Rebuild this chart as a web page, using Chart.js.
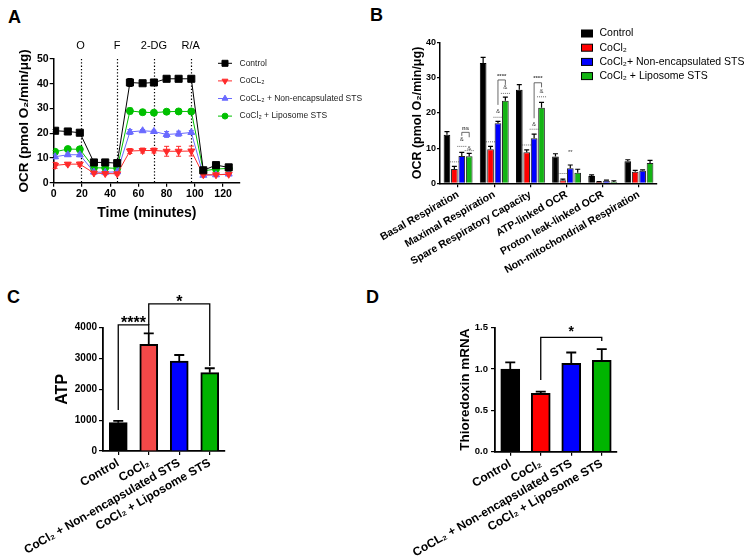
<!DOCTYPE html>
<html>
<head>
<meta charset="utf-8">
<script src="https://cdn.jsdelivr.net/npm/chart.js@4.4.1/dist/chart.umd.min.js"></script>
<style>
  html, body { margin:0; padding:0; background:#fff; }
  body { width:746px; height:560px; position:relative; overflow:hidden; font-family:'Liberation Sans', Arial, sans-serif; }
  canvas { position:absolute; }
  .plabel { position:absolute; font-size:18px; font-weight:bold; line-height:1; color:#000; }
</style>
</head>
<body>
<div class="plabel" style="left:8px;top:8px">A</div>
<div class="plabel" style="left:370px;top:6px">B</div>
<div class="plabel" style="left:7px;top:288px">C</div>
<div class="plabel" style="left:366px;top:288px">D</div>
<canvas id="chartA" width="380" height="230" style="left:0;top:0"></canvas>
<canvas id="chartB" width="406" height="290" style="left:340px;top:0"></canvas>
<canvas id="chartC" width="250" height="280" style="left:0;top:280px"></canvas>
<canvas id="chartD" width="373" height="280" style="left:373px;top:280px"></canvas>
<script>
// ================= DATA =================
// Panel A – OCR time course
const aTimes      = [1, 10, 18.5, 28.5, 36.5, 45, 54, 63, 71, 80, 88.5, 97.5, 106, 115, 124];
const aControl    = [21.0, 20.7, 20.2, 8.2, 8.2, 7.9, 40.5, 40.2, 40.5, 42.0, 42.0, 42.0, 5.0, 7.1, 6.2];
const aControlErr = [0.5, 0.4, 0.6, 0.5, 0.4, 0.5, 1.6, 0.8, 0.8, 0.5, 0.5, 0.5, 1.2, 0.8, 0.6];
const aCocl2      = [7.0, 7.5, 7.5, 3.9, 3.7, 3.6, 12.8, 13.0, 13.0, 12.7, 12.7, 12.8, 3.2, 3.2, 3.4];
const aCocl2Err   = [1.2, 0.6, 0.8, 0.5, 0.5, 0.5, 1.0, 1.0, 1.0, 2.0, 2.0, 2.0, 0.5, 0.5, 0.5];
const aNonEnc     = [10.5, 11.3, 11.3, 4.3, 4.2, 4.4, 20.5, 21.0, 20.7, 19.5, 19.8, 20.3, 3.0, 3.2, 3.5];
const aNonEncErr  = [0.8, 0.6, 0.8, 0.4, 0.4, 0.4, 1.0, 0.5, 0.5, 1.2, 1.0, 0.8, 0.4, 0.4, 0.4];
const aLipo       = [12.5, 13.6, 13.5, 6.0, 6.0, 5.8, 29.0, 28.5, 28.3, 28.7, 28.8, 28.8, 4.8, 5.5, 5.8];
const aLipoErr    = [0.5, 0.5, 0.6, 0.5, 0.5, 0.4, 1.2, 0.5, 0.5, 0.8, 0.8, 0.8, 0.5, 0.5, 0.5];
const aSeriesNames = ['Control', 'CoCL\u2082', 'CoCL\u2082 + Non-encapsulated STS', 'CoCl\u2082 + Liposome STS'];
const aInjectionTimes  = [19, 45, 71, 97];
const aInjectionLabels = ['O', 'F', '2-DG', 'R/A'];
const aXTicks = [0, 20, 40, 60, 80, 100, 120];
const aYTicks = [0, 10, 20, 30, 40, 50];

// Panel B – OCR parameters
const bCategories = ['Basal Respiration', 'Maximal Respiration', 'Spare Respiratory Capacity',
                     'ATP-linked OCR', 'Proton leak-linked OCR', 'Non-mitochondrial Respiration'];
const bSeriesNames = ['Control', 'CoCl\u2082', 'CoCl\u2082+ Non-encapsulated STS', 'CoCl\u2082 + Liposome STS'];
const bControl    = [13.8, 34.2, 26.6, 7.6, 2.1, 6.3];
const bControlErr = [0.9, 1.6, 1.5, 0.8, 0.3, 0.4];
const bCocl2      = [4.1, 9.7, 8.8, 0.9, 0.4, 3.3];
const bCocl2Err   = [0.7, 0.8, 0.7, 0.3, 0.1, 0.4];
const bNonEnc     = [7.8, 17.1, 12.8, 4.3, 0.7, 3.6];
const bNonEncErr  = [1.0, 0.5, 1.2, 0.9, 0.2, 0.2];
const bLipo       = [7.7, 23.5, 21.5, 3.0, 0.4, 5.8];
const bLipoErr    = [0.8, 1.0, 1.5, 1.0, 0.3, 0.7];
const bYTicks = [0, 10, 20, 30, 40];
// significance marks: [category, dataset, value, text]
const bMarks = [
  [0, 1, 6.1, '-'], [0, 2, 12.4, '&'], [0, 2, 10.5, '-'], [0, 3, 10.0, '&'], [0, 3, 9.3, '-'],
  [1, 1, 11.8, '-'], [1, 2, 20.4, '&'], [1, 2, 18.8, '-'], [1, 3, 27.3, '&'], [1, 3, 25.6, '-'],
  [2, 1, 10.9, '-'], [2, 2, 16.9, '&'], [2, 2, 15.4, '-'], [2, 3, 26.1, '&'], [2, 3, 24.6, '-'],
  [3, 1, 2.8, '-'], [3, 2, 8.7, '**']
];
// brackets: [category, dataset from, dataset to, top, left end, right end, text]
const bBrackets = [
  [0, 2, 3, 14.5, 13.5, 13.1, 'ns'],
  [1, 2, 3, 29.4, 22.3, 28.0, '****'],
  [2, 2, 3, 28.6, 18.5, 27.3, '****']
];

// Panel C – ATP
const cCategories = ['Control', 'CoCl\u2082', 'CoCl\u2082 + Non-encapsulated STS', 'CoCl\u2082 + Liposome STS'];
const cATP    = [920, 3460, 2920, 2540];
const cATPErr = [55, 355, 195, 145];
const cYTicks = [0, 1000, 2000, 3000, 4000];
const cBrackets = [[0, 1, 4090, 1330, 3830, '****'], [1, 3, 4770, 4090, 2760, '*']];

// Panel D – Thioredoxin mRNA
const dCategories = ['Control', 'CoCl\u2082', 'CoCL\u2082 + Non-encapsulated STS', 'CoCl\u2082 + Liposome STS'];
const dTrx    = [1.0, 0.706, 1.07, 1.105];
const dTrxErr = [0.08, 0.02, 0.13, 0.137];
const dYTicks = [0, 0.5, 1.0, 1.5];
const dYTickLabels = ['0.0', '0.5', '1.0', '1.5'];
const dBrackets = [[1, 3, 1.384, 0.867, 1.34, '*']];

// ================= HELPERS =================
const FONT = "'Liberation Sans', 'DejaVu Sans', Arial, sans-serif";
Chart.defaults.font.family = FONT;
Chart.defaults.color = '#000';
Chart.defaults.animation = false;

const fixedTicks = values => s => { s.ticks = values.map(v => ({ value: v })); };
const gridTicks = len => ({ display: true, drawOnChartArea: false, drawTicks: true, tickLength: len, color: '#000', lineWidth: 1.2, offset: false });

const lineErrorBars = {
  id: 'lineErrorBars',
  beforeDatasetsDraw(chart) {
    const { ctx, scales: { x, y } } = chart;
    ctx.save();
    chart.data.datasets.forEach(ds => {
      if (!ds.errors) return;
      ctx.strokeStyle = ds.borderColor; ctx.lineWidth = 1;
      ds.data.forEach((p, j) => {
        const e = ds.errors[j];
        const px = x.getPixelForValue(p.x);
        const y1 = y.getPixelForValue(p.y + e), y2 = y.getPixelForValue(p.y - e);
        ctx.beginPath();
        ctx.moveTo(px, y1); ctx.lineTo(px, y2);
        ctx.moveTo(px - 2.5, y1); ctx.lineTo(px + 2.5, y1);
        ctx.moveTo(px - 2.5, y2); ctx.lineTo(px + 2.5, y2);
        ctx.stroke();
      });
    });
    ctx.restore();
  }
};

const aInjections = {
  id: 'aInjections',
  beforeDatasetsDraw(chart) {
    const { ctx, chartArea, scales: { x } } = chart;
    ctx.save();
    ctx.strokeStyle = '#000'; ctx.lineWidth = 1.2; ctx.setLineDash([1.3, 2]);
    aInjectionTimes.forEach(t => {
      const px = Math.round(x.getPixelForValue(t)) + 0.5;
      ctx.beginPath(); ctx.moveTo(px, chartArea.top); ctx.lineTo(px, chartArea.bottom); ctx.stroke();
    });
    ctx.setLineDash([]);
    ctx.font = '11px ' + FONT; ctx.textAlign = 'center'; ctx.textBaseline = 'middle'; ctx.fillStyle = '#000';
    aInjectionTimes.forEach((t, i) => ctx.fillText(aInjectionLabels[i], x.getPixelForValue(t), chartArea.top - 13));
    ctx.restore();
  }
};

const aLegend = {
  id: 'aLegend',
  afterDraw(chart, args, o) {
    const { ctx } = chart;
    ctx.save();
    chart.data.datasets.forEach((ds, i) => {
      const y = o.y0 + i * o.dy;
      ctx.strokeStyle = ds.borderColor; ctx.fillStyle = ds.backgroundColor; ctx.lineWidth = 1;
      ctx.beginPath(); ctx.moveTo(o.x0, y); ctx.lineTo(o.x0 + o.len, y); ctx.stroke();
      Chart.helpers.drawPoint(ctx, { pointStyle: ds.pointStyle, radius: ds.pointRadius * 0.85, rotation: ds.pointRotation || 0, borderWidth: 1 }, o.x0 + o.len / 2, y);
      ctx.fillStyle = '#222'; ctx.font = o.font; ctx.textBaseline = 'middle'; ctx.textAlign = 'left';
      ctx.fillText(ds.label, o.textX, y);
    });
    ctx.restore();
  }
};

const barErrorBars = {
  id: 'barErrorBars',
  afterDatasetsDraw(chart, args, o) {
    const { ctx } = chart; const y = chart.scales.y;
    ctx.save(); ctx.strokeStyle = '#000'; ctx.lineWidth = o.lineWidth;
    chart.data.datasets.forEach((ds, i) => {
      if (!ds.errors) return;
      chart.getDatasetMeta(i).data.forEach((bar, j) => {
        const top = y.getPixelForValue(ds.data[j] + ds.errors[j]);
        ctx.beginPath();
        ctx.moveTo(bar.x, bar.y); ctx.lineTo(bar.x, top);
        ctx.moveTo(bar.x - o.capWidth / 2, top); ctx.lineTo(bar.x + o.capWidth / 2, top);
        ctx.stroke();
      });
    });
    ctx.restore();
  }
};

const brackets = {
  id: 'brackets',
  afterDraw(chart, args, o) {
    const { ctx } = chart; const x = chart.scales.x, y = chart.scales.y;
    ctx.save(); ctx.strokeStyle = '#000'; ctx.fillStyle = '#000'; ctx.lineWidth = o.lineWidth;
    o.items.forEach(([a, b, top, lb, rb, text]) => {
      const xa = x.getPixelForValue(a), xb = x.getPixelForValue(b), yt = y.getPixelForValue(top);
      ctx.beginPath();
      ctx.moveTo(xa, y.getPixelForValue(lb)); ctx.lineTo(xa, yt); ctx.lineTo(xb, yt); ctx.lineTo(xb, y.getPixelForValue(rb));
      ctx.stroke();
      ctx.font = o.font; ctx.textAlign = 'center'; ctx.textBaseline = 'alphabetic';
      ctx.fillText(text, (xa + xb) / 2, yt + o.textDy);
    });
    ctx.restore();
  }
};

const bAnnot = {
  id: 'bAnnot',
  afterDatasetsDraw(chart) {
    const { ctx } = chart; const y = chart.scales.y;
    const bx = (cat, ds) => chart.getDatasetMeta(ds).data[cat].x;
    ctx.save();
    ctx.strokeStyle = '#444'; ctx.fillStyle = '#444'; ctx.lineWidth = 0.8;
    ctx.textAlign = 'center'; ctx.textBaseline = 'middle';
    bMarks.forEach(([cat, ds, v, t]) => {
      const px = bx(cat, ds), py = y.getPixelForValue(v);
      if (t === '-') {
        ctx.setLineDash([1, 1]); ctx.beginPath(); ctx.moveTo(px - 4.5, py); ctx.lineTo(px + 4.5, py); ctx.stroke(); ctx.setLineDash([]);
      } else { ctx.font = '6px ' + FONT; ctx.fillText(t, px, py); }
    });
    bBrackets.forEach(([cat, d1, d2, top, lb, rb, t]) => {
      const x1 = bx(cat, d1), x2 = bx(cat, d2), yt = y.getPixelForValue(top);
      ctx.beginPath(); ctx.moveTo(x1, y.getPixelForValue(lb)); ctx.lineTo(x1, yt); ctx.lineTo(x2, yt); ctx.lineTo(x2, y.getPixelForValue(rb)); ctx.stroke();
      ctx.font = 'bold 6px ' + FONT; ctx.fillText(t, (x1 + x2) / 2, yt - 4);
    });
    ctx.restore();
  }
};

const bLegend = {
  id: 'bLegend',
  afterDraw(chart, args, o) {
    const { ctx } = chart;
    ctx.save();
    chart.data.datasets.forEach((ds, i) => {
      const y = o.y0 + i * o.dy;
      ctx.fillStyle = ds.backgroundColor; ctx.fillRect(o.x0, y - 3.5, 12, 7);
      ctx.strokeStyle = '#000'; ctx.lineWidth = 1; ctx.strokeRect(o.x0 + 0.5, y - 3.5, 11, 7);
      ctx.fillStyle = '#000'; ctx.font = o.font; ctx.textAlign = 'left'; ctx.textBaseline = 'middle';
      ctx.fillText(ds.label, o.textX, y);
    });
    ctx.restore();
  }
};

// ================= PANEL A =================
const toXY = vals => aTimes.map((t, i) => ({ x: t, y: vals[i] }));
new Chart(document.getElementById('chartA'), {
  type: 'line',
  data: {
    datasets: [
      { label: aSeriesNames[0], data: toXY(aControl), errors: aControlErr, borderColor: '#000', backgroundColor: '#000', pointStyle: 'rect', pointRadius: 5, borderWidth: 1 },
      { label: aSeriesNames[1], data: toXY(aCocl2), errors: aCocl2Err, borderColor: '#ff2a2a', backgroundColor: '#ff2a2a', pointStyle: 'triangle', pointRotation: 180, pointRadius: 4, borderWidth: 1 },
      { label: aSeriesNames[2], data: toXY(aNonEnc), errors: aNonEncErr, borderColor: '#6a6aff', backgroundColor: '#6a6aff', pointStyle: 'triangle', pointRadius: 4, borderWidth: 1 },
      { label: aSeriesNames[3], data: toXY(aLipo), errors: aLipoErr, borderColor: '#00c000', backgroundColor: '#00c000', pointStyle: 'circle', pointRadius: 3.5, borderWidth: 1 }
    ]
  },
  options: {
    responsive: false, animation: false,
    layout: { padding: { left: 0, top: 59, right: 140, bottom: 0 }, autoPadding: false },
    plugins: {
      legend: { display: false }, tooltip: { enabled: false },
      aLegend: { x0: 218, len: 14, textX: 239.5, y0: 63.3, dy: 17.6, font: '8.5px ' + FONT }
    },
    scales: {
      x: {
        type: 'linear', min: 0, max: 132,
        afterBuildTicks: fixedTicks(aXTicks), afterFit: s => { s.height = 47.3; },
        grid: gridTicks(4), border: { color: '#000', width: 1.5 },
        ticks: { font: { size: 10.5, weight: 'bold' }, padding: 1, maxRotation: 0, autoSkip: false },
        title: { display: true, text: 'Time (minutes)', font: { size: 14, weight: 'bold' }, padding: { top: 0, bottom: 8.6 } }
      },
      y: {
        min: 0, max: 50,
        afterBuildTicks: fixedTicks(aYTicks), afterFit: s => { s.width = 53.7; },
        grid: gridTicks(4), border: { color: '#000', width: 1.5 },
        ticks: { font: { size: 10.5, weight: 'bold' }, padding: 1 },
        title: { display: true, text: 'OCR (pmol O\u2082/min/\u03bcg)', font: { size: 13.5, weight: 'bold' }, padding: { top: 16.4, bottom: 0 } }
      }
    }
  },
  plugins: [aInjections, lineErrorBars, aLegend]
});

// ================= PANEL B =================
new Chart(document.getElementById('chartB'), {
  type: 'bar',
  data: {
    labels: bCategories,
    datasets: [
      { label: bSeriesNames[0], data: bControl, errors: bControlErr, backgroundColor: '#000', borderColor: '#000', borderWidth: 1 },
      { label: bSeriesNames[1], data: bCocl2, errors: bCocl2Err, backgroundColor: '#ff0000', borderColor: '#222', borderWidth: 1 },
      { label: bSeriesNames[2], data: bNonEnc, errors: bNonEncErr, backgroundColor: '#0000ff', borderColor: '#222', borderWidth: 1 },
      { label: bSeriesNames[3], data: bLipo, errors: bLipoErr, backgroundColor: '#14b414', borderColor: '#222', borderWidth: 1 }
    ]
  },
  options: {
    responsive: false, animation: false,
    categoryPercentage: 0.82, barPercentage: 0.9,
    layout: { padding: { left: 40, top: 42.7, right: 89, bottom: 0 }, autoPadding: false },
    plugins: {
      legend: { display: false }, tooltip: { enabled: false },
      barErrorBars: { capWidth: 5, lineWidth: 1.2 },
      bLegend: { x0: 241, textX: 259.5, y0: 33.5, dy: 14.2, font: '10.5px ' + FONT }
    },
    scales: {
      x: {
        afterFit: s => { s.height = 106.7; },
        grid: gridTicks(4), border: { color: '#000', width: 1.5 },
        ticks: { font: { size: 10.5, weight: 'bold' }, padding: 1, minRotation: 30, maxRotation: 30, autoSkip: false }
      },
      y: {
        min: 0, max: 40,
        afterBuildTicks: fixedTicks(bYTicks), afterFit: s => { s.width = 60; },
        grid: gridTicks(3), border: { color: '#000', width: 1.5 },
        ticks: { font: { size: 9, weight: 'bold' }, padding: 1 },
        title: { display: true, text: 'OCR (pmol O\u2082/min/\u03bcg)', font: { size: 12.5, weight: 'bold' }, padding: { top: 30, bottom: 0 } }
      }
    }
  },
  plugins: [barErrorBars, bAnnot, bLegend]
});

// ================= PANEL C =================
new Chart(document.getElementById('chartC'), {
  type: 'bar',
  data: {
    labels: cCategories,
    datasets: [{ data: cATP, errors: cATPErr, backgroundColor: ['#000', '#f44848', '#0000ff', '#00b400'], borderColor: '#000', borderWidth: 2, barThickness: 18 }]
  },
  options: {
    responsive: false, animation: false,
    layout: { padding: { left: 0, top: 47.7, right: 25, bottom: 0 }, autoPadding: false },
    plugins: {
      legend: { display: false }, tooltip: { enabled: false },
      barErrorBars: { capWidth: 10, lineWidth: 1.8 },
      brackets: { items: cBrackets, lineWidth: 1.3, font: 'bold 16px ' + FONT, textDy: 3 }
    },
    scales: {
      x: {
        afterFit: s => { s.height = 109; },
        grid: gridTicks(4), border: { color: '#000', width: 1.8 },
        ticks: { font: { size: 12, weight: 'bold' }, padding: 1, minRotation: 30, maxRotation: 30, autoSkip: false }
      },
      y: {
        min: 0, max: 4000,
        afterBuildTicks: fixedTicks(cYTicks), afterFit: s => { s.width = 103; },
        grid: gridTicks(4), border: { color: '#000', width: 1.8 },
        ticks: { font: { size: 10, weight: 'bold' }, padding: 2, callback: v => String(v) },
        title: { display: true, text: 'ATP', font: { size: 16, weight: 'bold' }, padding: { top: 53, bottom: 0 } }
      }
    }
  },
  plugins: [barErrorBars, brackets]
});

// ================= PANEL D =================
new Chart(document.getElementById('chartD'), {
  type: 'bar',
  data: {
    labels: dCategories,
    datasets: [{ data: dTrx, errors: dTrxErr, backgroundColor: ['#000', '#ff0000', '#0000ff', '#00b400'], borderColor: '#000', borderWidth: 2, barThickness: 19 }]
  },
  options: {
    responsive: false, animation: false,
    layout: { padding: { left: 0, top: 47.7, right: 129, bottom: 0 }, autoPadding: false },
    plugins: {
      legend: { display: false }, tooltip: { enabled: false },
      barErrorBars: { capWidth: 10, lineWidth: 1.8 },
      brackets: { items: dBrackets, lineWidth: 1.3, font: 'bold 14px ' + FONT, textDy: -1.5 }
    },
    scales: {
      x: {
        afterFit: s => { s.height = 108.3; },
        grid: gridTicks(4), border: { color: '#000', width: 1.8 },
        ticks: { font: { size: 12, weight: 'bold' }, padding: 1, minRotation: 30, maxRotation: 30, autoSkip: false }
      },
      y: {
        min: 0, max: 1.5,
        afterBuildTicks: fixedTicks(dYTicks), afterFit: s => { s.width = 122; },
        grid: gridTicks(4), border: { color: '#000', width: 1.8 },
        ticks: { font: { size: 9.5, weight: 'bold' }, padding: 3, callback: (v, i) => dYTickLabels[i] },
        title: { display: true, text: 'Thioredoxin mRNA', font: { size: 13.5, weight: 'bold' }, padding: { top: 84, bottom: 0 } }
      }
    }
  },
  plugins: [barErrorBars, brackets]
});
</script>
</body>
</html>
